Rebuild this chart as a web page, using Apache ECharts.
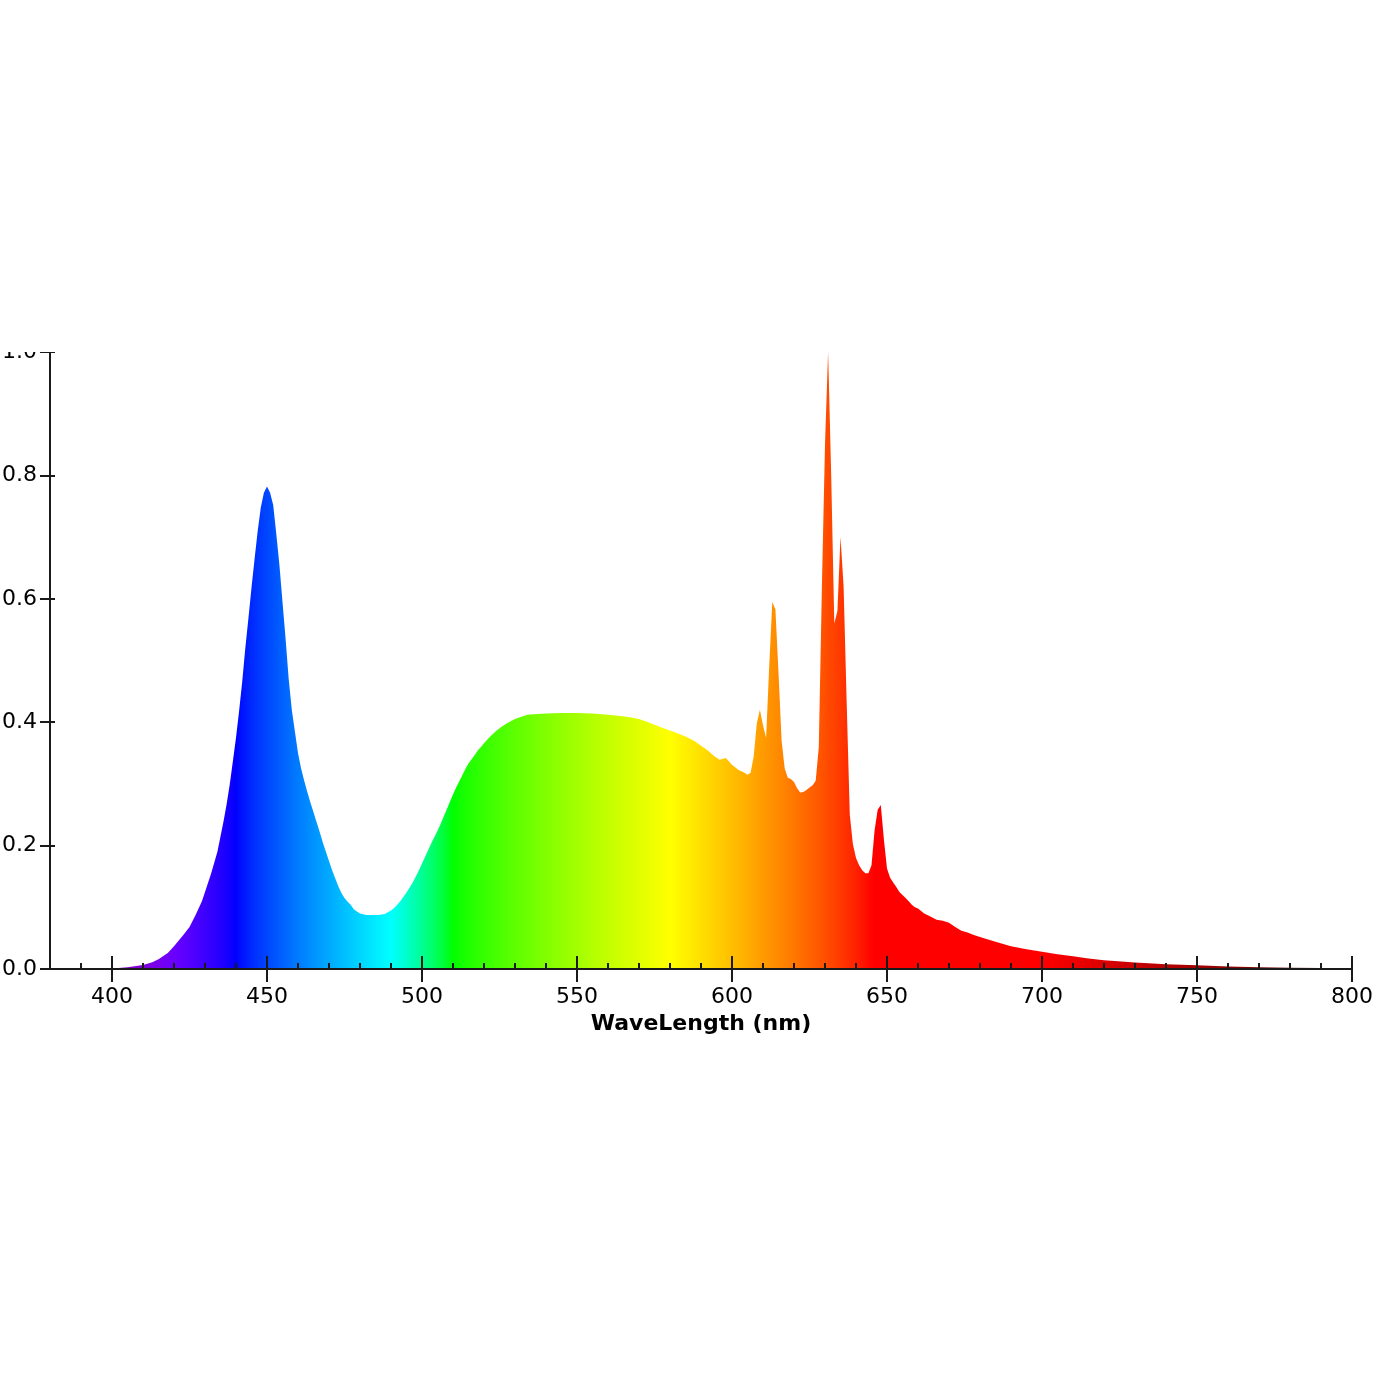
<!DOCTYPE html>
<html>
<head>
<meta charset="utf-8">
<script src="https://cdn.jsdelivr.net/npm/echarts@6/dist/echarts.min.js"></script>
<style>
  html, body { margin: 0; padding: 0; background: #fff; }
  #chart { position: absolute; left: 0; top: 352px; width: 1395px; height: 1043px; }
</style>
</head>
<body>
<div id="chart"></div>
<script>
// spectrum (nm / relative intensity)
const wavelengths = [
  380, 390, 395, 400, 405, 410, 413, 415, 418, 420, 421, 423, 425, 427, 429, 430,
  432, 434, 436, 437, 438, 439, 440, 441, 442, 443, 444, 445, 446, 447, 448, 449,
  450, 451, 452, 453, 454, 455, 456, 457, 458, 459, 460, 461, 462, 463, 464, 465,
  466, 467, 468, 469, 470, 471, 472, 473, 474, 475, 476, 477, 478, 479, 480, 482,
  484, 486, 488, 489, 490, 491, 492, 493, 494, 495, 496, 497, 498, 499, 500, 501,
  502, 503, 504, 505, 506, 507, 508, 509, 510, 511, 512, 513, 514, 515, 516, 517,
  518, 519, 520, 522, 524, 526, 528, 530, 532, 534, 536, 540, 545, 550, 555, 560,
  564, 567, 570, 573, 576, 579, 582, 585, 588, 590, 592, 594, 596, 598, 600, 602,
  604, 605, 606, 607, 608, 609, 610, 611, 612, 613, 614, 615, 616, 617, 618, 619,
  620, 621, 622, 623, 624, 625, 626, 627, 628, 629, 630, 631, 632, 633, 634, 635,
  636, 637, 638, 639, 640, 641, 642, 643, 644, 645, 646, 647, 648, 649, 650, 651,
  652, 653, 654, 655, 656, 657, 658, 659, 660, 662, 664, 666, 668, 670, 672, 674,
  676, 678, 680, 685, 690, 695, 700, 705, 710, 715, 720, 730, 740, 750, 760, 770,
  780, 790, 800
]
const intensity = [
  0, 0, 0.0005, 0.001, 0.003, 0.0065, 0.011, 0.016, 0.026, 0.037, 0.043, 0.055, 0.068, 0.088, 0.11, 0.125,
  0.155, 0.19, 0.24, 0.268, 0.3, 0.337, 0.375, 0.418, 0.465, 0.52, 0.568, 0.618, 0.665, 0.71, 0.748, 0.772,
  0.782, 0.772, 0.752, 0.705, 0.655, 0.595, 0.535, 0.47, 0.42, 0.385, 0.35, 0.325, 0.305, 0.287, 0.27, 0.254,
  0.238, 0.222, 0.205, 0.19, 0.175, 0.16, 0.147, 0.134, 0.123, 0.115, 0.109, 0.104, 0.097, 0.093, 0.09, 0.0875,
  0.0875, 0.0875, 0.089, 0.092, 0.095, 0.099, 0.104, 0.11, 0.117, 0.124, 0.132, 0.14, 0.15, 0.16, 0.171, 0.182,
  0.193, 0.204, 0.214, 0.224, 0.235, 0.247, 0.259, 0.271, 0.283, 0.294, 0.304, 0.314, 0.324, 0.333, 0.34, 0.347,
  0.354, 0.36, 0.366, 0.377, 0.386, 0.394, 0.4, 0.405, 0.409, 0.412, 0.413, 0.414, 0.415, 0.415, 0.414, 0.412,
  0.41, 0.408, 0.405, 0.4, 0.394, 0.388, 0.383, 0.377, 0.369, 0.362, 0.355, 0.346, 0.339, 0.342, 0.331, 0.323,
  0.318, 0.315, 0.318, 0.345, 0.398, 0.42, 0.395, 0.375, 0.49, 0.595, 0.583, 0.48, 0.37, 0.325, 0.31, 0.308,
  0.303, 0.293, 0.286, 0.287, 0.29, 0.294, 0.298, 0.305, 0.36, 0.62, 0.85, 1.0, 0.8, 0.56, 0.58, 0.7,
  0.62, 0.43, 0.25, 0.202, 0.18, 0.168, 0.16, 0.155, 0.155, 0.168, 0.225, 0.258, 0.266, 0.21, 0.163, 0.148,
  0.14, 0.133, 0.125, 0.12, 0.115, 0.11, 0.104, 0.1, 0.098, 0.09, 0.085, 0.08, 0.078, 0.075, 0.068, 0.062,
  0.059, 0.055, 0.052, 0.044, 0.037, 0.032, 0.028, 0.024, 0.0205, 0.017, 0.014, 0.0105, 0.0075, 0.006, 0.004, 0.0028,
  0.002, 0.0015, 0.001
]
const xMajorTicks = [400, 450, 500, 550, 600, 650, 700, 750, 800]
const xMinorTicks = [390, 410, 420, 430, 440, 460, 470, 480, 490, 510, 520, 530, 540, 560, 570, 580, 590,
  610, 620, 630, 640, 660, 670, 680, 690, 710, 720, 730, 740, 760, 770, 780, 790]

const X_MIN = 380
const X_MAX = 800
const AXIS_COLOR = '#1a1a1a'
const FONT = 'DejaVu Sans'

// visible-spectrum colour for a wavelength
const waveColor = (w) => {
  let r = 0, g = 0, b = 0
  if (w < 440) { r = -(w - 440) / 60; b = 1 }
  else if (w < 490) { g = (w - 440) / 50; b = 1 }
  else if (w < 510) { g = 1; b = -(w - 510) / 20 }
  else if (w < 580) { r = (w - 510) / 70; g = 1 }
  else if (w < 645) { r = 1; g = -(w - 645) / 65 }
  else { r = 1 }
  let f = 1
  if (w < 420) f = 0.3 + 0.7 * (w - 380) / 40
  else if (w > 700) f = 0.3 + 0.7 * (780 - Math.min(w, 780)) / 80
  const c = (v) => Math.round(255 * Math.pow(v * f, 0.8))
  return `rgb(${c(r)},${c(g)},${c(b)})`
}

const stops = []
for (let w = X_MIN; w <= X_MAX; w += 2) {
  stops.push({ offset: (w - X_MIN) / (X_MAX - X_MIN), color: waveColor(w) })
}

const baseX = {
  type: 'value',
  min: X_MIN,
  max: X_MAX,
  position: 'bottom',
  z: 5,
  splitLine: { show: false },
  axisLine: { show: false },
  axisLabel: { show: false },
  axisTick: { show: false },
}

const myChart = echarts.init(document.getElementById('chart'))
myChart.setOption({
  animation: false,
  backgroundColor: '#fff',
  grid: { left: 50, right: 43, top: 0, bottom: 426, containLabel: false, outerBoundsMode: 'none' },
  xAxis: [
    {
      ...baseX,
      name: 'WaveLength (nm)',
      nameLocation: 'middle',
      nameGap: 42,
      nameTextStyle: { fontFamily: FONT, fontSize: 22, fontWeight: 'bold', color: '#000' },
      axisLine: { show: true, onZero: false, lineStyle: { color: AXIS_COLOR, width: 2 } },
      axisTick: { show: true, inside: false, length: 13, customValues: xMajorTicks, lineStyle: { color: AXIS_COLOR, width: 2 } },
      axisLabel: { show: true, margin: 17, customValues: xMajorTicks, fontFamily: FONT, fontSize: 22, color: '#000' },
    },
    {
      ...baseX,
      axisTick: { show: true, inside: true, length: 13, customValues: xMajorTicks, lineStyle: { color: AXIS_COLOR, width: 2 } },
    },
    {
      ...baseX,
      axisTick: { show: true, inside: true, length: 6, customValues: xMinorTicks, lineStyle: { color: AXIS_COLOR, width: 2 } },
    },
  ],
  yAxis: [
    {
      type: 'value',
      min: 0,
      max: 1,
      interval: 0.2,
      position: 'left',
      z: 5,
      splitLine: { show: false },
      axisLine: { show: true, lineStyle: { color: AXIS_COLOR, width: 2 } },
      axisTick: { show: true, inside: false, length: 10, lineStyle: { color: AXIS_COLOR, width: 2 } },
      axisLabel: {
        margin: 13,
        fontFamily: FONT,
        fontSize: 22,
        color: '#000',
        formatter: (v) => v.toFixed(1),
      },
    },
    {
      type: 'value',
      min: 0,
      max: 1,
      interval: 0.2,
      position: 'left',
      offset: 0,
      z: 5,
      splitLine: { show: false },
      axisLine: { show: false },
      axisLabel: { show: false },
      axisTick: { show: true, inside: true, length: 5, lineStyle: { color: AXIS_COLOR, width: 2 } },
    },
  ],
  series: [
    {
      type: 'line',
      xAxisIndex: 0,
      yAxisIndex: 0,
      z: 1,
      showSymbol: false,
      silent: true,
      lineStyle: { width: 0 },
      areaStyle: {
        opacity: 1,
        color: new echarts.graphic.LinearGradient(0, 0, 1, 0, stops),
      },
      data: wavelengths.map((w, i) => [w, intensity[i]]),
    },
  ],
})
</script>
</body>
</html>
